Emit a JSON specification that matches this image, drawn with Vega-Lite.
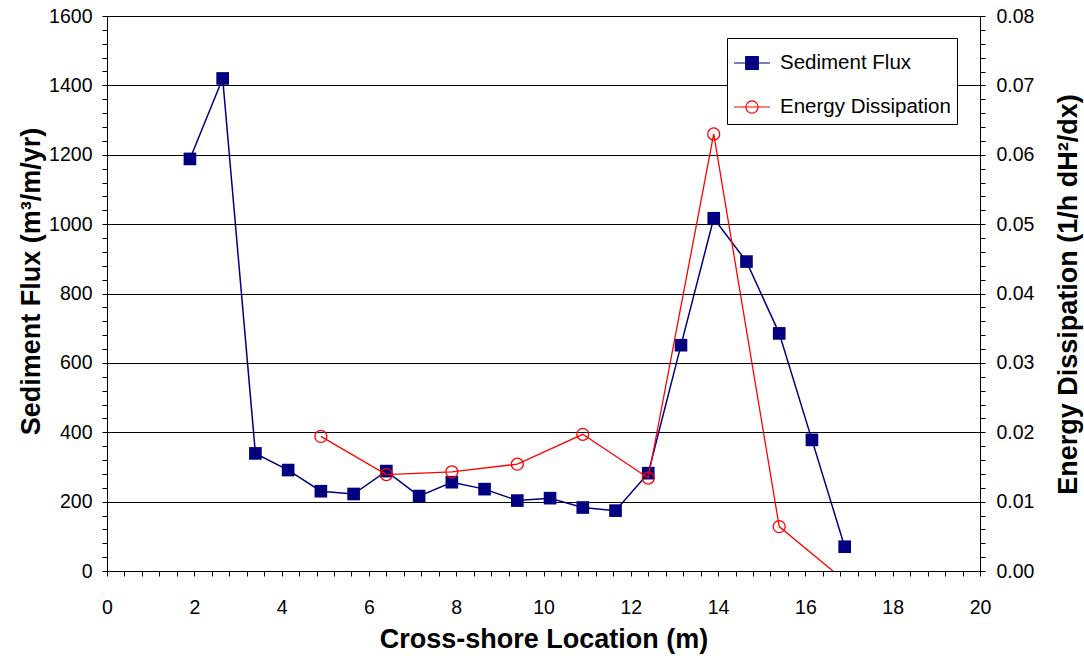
{
  "$schema": "https://vega.github.io/schema/vega-lite/v6.json",
  "width": 873,
  "height": 555,
  "autosize": "none",
  "padding": {"left": 107, "top": 16, "right": 104, "bottom": 87},
  "background": "white",
  "config": {
    "view": {"stroke": null},
    "font": "Liberation Sans",
    "axis": {
      "labelFont": "Liberation Sans",
      "labelFontSize": 19.5,
      "labelColor": "black",
      "titleFont": "Liberation Sans",
      "titleFontSize": 27,
      "titleFontWeight": "bold",
      "titleColor": "black",
      "domainColor": "black",
      "domainWidth": 1,
      "tickColor": "black",
      "tickWidth": 1,
      "tickSize": 5,
      "tickCount": 1000,
      "labelOverlap": false,
      "labelFlush": false
    }
  },
  "data": {
    "values": [
      {"series": "Sediment Flux", "x": 1.9, "value": 1188},
      {"series": "Sediment Flux", "x": 2.65, "value": 1420},
      {"series": "Sediment Flux", "x": 3.4, "value": 339},
      {"series": "Sediment Flux", "x": 4.15, "value": 291},
      {"series": "Sediment Flux", "x": 4.9, "value": 230},
      {"series": "Sediment Flux", "x": 5.65, "value": 222},
      {"series": "Sediment Flux", "x": 6.4, "value": 288},
      {"series": "Sediment Flux", "x": 7.15, "value": 216},
      {"series": "Sediment Flux", "x": 7.9, "value": 256},
      {"series": "Sediment Flux", "x": 8.65, "value": 236},
      {"series": "Sediment Flux", "x": 9.4, "value": 203},
      {"series": "Sediment Flux", "x": 10.15, "value": 210},
      {"series": "Sediment Flux", "x": 10.9, "value": 183},
      {"series": "Sediment Flux", "x": 11.65, "value": 174},
      {"series": "Sediment Flux", "x": 12.4, "value": 282},
      {"series": "Sediment Flux", "x": 13.15, "value": 651},
      {"series": "Sediment Flux", "x": 13.9, "value": 1017},
      {"series": "Sediment Flux", "x": 14.65, "value": 892},
      {"series": "Sediment Flux", "x": 15.4, "value": 685},
      {"series": "Sediment Flux", "x": 16.15, "value": 378},
      {"series": "Sediment Flux", "x": 16.9, "value": 70},
      {"series": "Energy Dissipation", "x": 4.9, "value": 0.0194},
      {"series": "Energy Dissipation", "x": 6.4, "value": 0.0139},
      {"series": "Energy Dissipation", "x": 7.9, "value": 0.0143},
      {"series": "Energy Dissipation", "x": 9.4, "value": 0.0154},
      {"series": "Energy Dissipation", "x": 10.9, "value": 0.0197},
      {"series": "Energy Dissipation", "x": 12.4, "value": 0.0134},
      {"series": "Energy Dissipation", "x": 13.9, "value": 0.063},
      {"series": "Energy Dissipation", "x": 15.4, "value": 0.0064},
      {"series": "Energy Dissipation", "x": 16.9, "value": -0.0014}
    ]
  },
  "encoding": {
    "x": {
      "field": "x",
      "type": "quantitative",
      "scale": {"domain": [0, 20], "nice": false, "zero": false},
      "axis": {
        "title": "Cross-shore Location (m)",
        "orient": "bottom",
        "values": [0,0.4,0.8,1.2,1.6,2,2.4,2.8,3.2,3.6,4,4.4,4.8,5.2,5.6,6,6.4,6.8,7.2,7.6,8,8.4,8.8,9.2,9.6,10,10.4,10.8,11.2,11.6,12,12.4,12.8,13.2,13.6,14,14.4,14.8,15.2,15.6,16,16.4,16.8,17.2,17.6,18,18.4,18.8,19.2,19.6,20],
        "tickCount": 1000,
        "tickMinStep": 0.01,
        "labelExpr": "datum.value % 2 === 0 ? format(datum.value, 'd') : ''",
        "grid": false,
        "labelBaseline": "alphabetic",
        "labelPadding": 37,
        "titleX": 436.5,
        "titleY": 76,
        "titleAnchor": "middle",
        "titleAlign": "center",
        "titleBaseline": "alphabetic"
      }
    }
  },
  "layer": [
    {
      "transform": [{"filter": "datum.series === 'Sediment Flux'"}],
      "encoding": {
        "y": {
          "field": "value",
          "type": "quantitative",
          "scale": {"domain": [0, 1600], "nice": false, "zero": false},
          "axis": {
            "title": "Sediment Flux (m³/m/yr)",
            "orient": "left",
            "values": [0,40,80,120,160,200,240,280,320,360,400,440,480,520,560,600,640,680,720,760,800,840,880,920,960,1000,1040,1080,1120,1160,1200,1240,1280,1320,1360,1400,1440,1480,1520,1560,1600],
            "tickCount": 1000,
            "tickMinStep": 1,
            "labelExpr": "datum.value % 200 === 0 ? format(datum.value, 'd') : ''",
            "grid": true,
            "gridColor": "black",
            "gridWidth": 1,
            "gridOpacity": {"condition": {"test": "datum.value % 200 === 0", "value": 1}, "value": 0},
            "labelPadding": 10,
            "labelBaseline": "middle",
            "titleAngle": 270,
            "titleX": -76,
            "titleY": 265,
            "titleAlign": "center",
            "titleBaseline": "middle"
          }
        }
      },
      "layer": [
        {
          "mark": {"type": "line", "strokeWidth": 1.5},
          "encoding": {
            "stroke": {
              "field": "series",
              "type": "nominal",
              "scale": {"domain": ["Sediment Flux", "Energy Dissipation"], "range": ["#000080", "#FF0000"]},
              "legend": {
                "orient": "none",
                "legendX": 620,
                "legendY": 22,
                "title": null,
                "padding": 6,
                "rowPadding": 14,
                "strokeColor": "black",
                "fillColor": "white",
                "labelFont": "Liberation Sans",
                "labelFontSize": 20.5,
                "labelColor": "black",
                "labelLimit": 300,
                "labelOffset": 9,
                "symbolSize": 1296,
                "symbolStrokeWidth": 1.2,
                "encode": {
                  "symbols": {
                    "update": {
                      "shape": {"signal": "datum.value === 'Sediment Flux' ? 'M-1,0H1M-0.35,-0.35H0.35V0.35H-0.35Z' : 'M-1,0H1M0.34,0A0.34,0.34,0,1,1,-0.34,0A0.34,0.34,0,1,1,0.34,0'"},
                      "fill": {"signal": "datum.value === 'Sediment Flux' ? '#000080' : 'transparent'"},
                      "stroke": {"signal": "datum.value === 'Sediment Flux' ? '#000080' : '#FF0000'"},
                      "strokeWidth": {"value": 1.2},
                      "opacity": {"value": 1}
                    }
                  }
                }
              }
            }
          }
        },
        {
          "mark": {"type": "point", "shape": "square", "filled": true, "color": "#000080", "size": 160, "opacity": 1}
        }
      ]
    },
    {
      "transform": [{"filter": "datum.series === 'Energy Dissipation'"}],
      "encoding": {
        "y": {
          "field": "value",
          "type": "quantitative",
          "scale": {"domain": [0, 0.08], "nice": false, "zero": false},
          "axis": {
            "title": "Energy Dissipation (1/h dH²/dx)",
            "orient": "right",
            "values": [0,0.002,0.004,0.006,0.008,0.01,0.012,0.014,0.016,0.018,0.02,0.022,0.024,0.026,0.028,0.03,0.032,0.034,0.036,0.038,0.04,0.042,0.044,0.046,0.048,0.05,0.052,0.054,0.056,0.058,0.06,0.062,0.064,0.066,0.068,0.07,0.072,0.074,0.076,0.078,0.08],
            "tickCount": 1000,
            "tickMinStep": 0.0001,
            "labelExpr": "round(datum.value * 1000) % 10 === 0 ? format(datum.value, '.2f') : ''",
            "grid": false,
            "labelPadding": 11,
            "labelBaseline": "middle",
            "titleAngle": 270,
            "titleX": 88,
            "titleY": 278,
            "titleAlign": "center",
            "titleBaseline": "middle"
          }
        }
      },
      "layer": [
        {
          "mark": {"type": "line", "strokeWidth": 1.3, "clip": true},
          "encoding": {
            "stroke": {
              "field": "series",
              "type": "nominal",
              "scale": {"domain": ["Sediment Flux", "Energy Dissipation"], "range": ["#000080", "#FF0000"]}
            }
          }
        },
        {
          "mark": {"type": "point", "shape": "circle", "filled": false, "color": "#FF0000", "size": 144, "strokeWidth": 1.3, "opacity": 1, "clip": true}
        }
      ]
    }
  ],
  "resolve": {"scale": {"y": "independent"}}
}
